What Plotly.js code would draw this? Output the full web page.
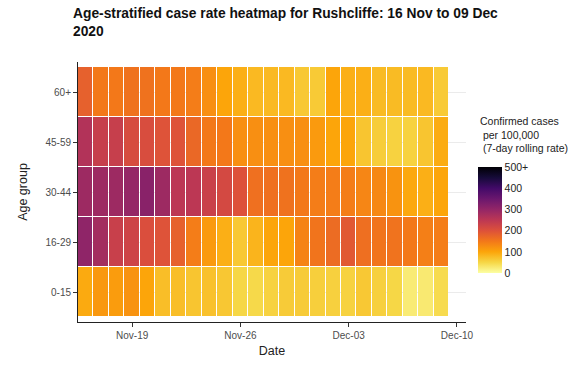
<!DOCTYPE html>
<html><head><meta charset="utf-8">
<script src="https://cdn.plot.ly/plotly-3.0.1.min.js"></script>
<style>body{margin:0;background:#fff}#chart{width:585px;height:365px}</style>
</head><body><div id="chart"></div>
<script>
const dates = ['2020-11-16','2020-11-17','2020-11-18','2020-11-19','2020-11-20','2020-11-21','2020-11-22','2020-11-23','2020-11-24','2020-11-25','2020-11-26','2020-11-27','2020-11-28','2020-11-29','2020-11-30','2020-12-01','2020-12-02','2020-12-03','2020-12-04','2020-12-05','2020-12-06','2020-12-07','2020-12-08','2020-12-09'];
const ageGroups = ['0-15','16-29','30-44','45-59','60+'];
const rate0_15  = [95,115,110,120,100,75,75,68,72,66,50,48,55,62,62,58,57,55,65,57,50,25,27,45];
const rate16_29 = [305,280,232,225,205,198,180,145,112,90,65,85,100,100,138,155,165,190,162,155,157,150,142,145];
const rate30_44 = [288,288,288,298,312,288,250,250,230,215,200,160,160,158,150,145,145,145,135,132,120,97,90,100];
const rate45_59 = [262,235,235,210,208,198,198,170,150,150,125,125,125,125,125,112,100,100,68,60,55,55,68,93];
const rate60p   = [180,150,150,158,158,150,150,145,125,100,90,80,80,80,65,63,100,90,90,78,78,78,80,63];
const cbTicks = [0,100,200,300,400,500];
const cbLabels = ['0','100','200','300','400','500+'];
const xTicks = ['2020-11-19','2020-11-26','2020-12-03','2020-12-10'];
const xTickText = ['Nov-19','Nov-26','Dec-03','Dec-10'];
const chartTitle = 'Age-stratified case rate heatmap for Rushcliffe: 16 Nov to 09 Dec<br>2020';

const inferno = [[0,'#FCFFA4'],[0.1,'#F6D746'],[0.2,'#FCA50A'],[0.3,'#F37819'],[0.4,'#DD513A'],[0.5,'#BC3754'],[0.6,'#932667'],[0.7,'#6A176E'],[0.8,'#420A68'],[0.9,'#160B39'],[1,'#000004']];

const z = [rate0_15, rate16_29, rate30_44, rate45_59, rate60p];
const trace = {
  type:'heatmap', x:dates, y:ageGroups, z:z,
  zmin:0, zmax:500, colorscale:inferno, xgap:1, ygap:1,
  hoverinfo:'x+y+z',
  colorbar:{
    x:1.031, xanchor:'left', y:0.392, yanchor:'middle', xpad:0, ypad:0,
    thickness:24, thicknessmode:'pixels', len:106, lenmode:'pixels',
    outlinewidth:0, tickvals:cbTicks, ticktext:cbLabels,
    ticks:'', ticklen:0,
    tickfont:{family:'Liberation Sans, Arial, sans-serif', size:10.5, color:'#222'},
    title:{text:''}
  }
};
const layout = {
  width:585, height:365,
  margin:{l:78, r:119, t:62, b:43},
  paper_bgcolor:'#fff', plot_bgcolor:'#fff',
  font:{family:'Liberation Sans, Arial, sans-serif'},
  xaxis:{type:'date', range:['2020-11-15 12:00','2020-12-10 14:00'],
    tickvals:xTicks, ticktext:xTickText, showgrid:false, zeroline:false,
    showline:true, linecolor:'#222', linewidth:1, ticks:'outside', ticklen:4, tickcolor:'#333',
    tickfont:{size:10, color:'#4d4d4d'},
    title:{text:'Date', font:{size:12.5, color:'#222'}, standoff:6}},
  yaxis:{type:'category', categoryarray:ageGroups, range:[-0.6,4.6],
    showgrid:true, gridcolor:'#ebebeb', zeroline:false,
    showline:true, linecolor:'#222', linewidth:1, ticks:'outside', ticklen:4, tickcolor:'#333',
    tickfont:{size:10, color:'#4d4d4d'},
    title:{text:'Age group', font:{size:12.5, color:'#222'}, standoff:15}},
  annotations:[{
    xref:'paper', yref:'paper', x:(71-78)/388, xanchor:'left', y:(322-4)/260, yanchor:'top',
    text:'<b>'+chartTitle+'</b>', align:'left', showarrow:false,
    font:{size:13.8, color:'#111'}
  },{
    xref:'paper', yref:'paper', x:1.0, xanchor:'left', y:(322-113)/260, yanchor:'top',
    xshift:12,
    text:'Confirmed cases<br>\u00a0per 100,000<br>\u00a0(7-day rolling rate)',
    align:'left', showarrow:false,
    font:{size:10.5, color:'#222'}
  }]
};
Plotly.newPlot('chart',[trace],layout,{displayModeBar:false, staticPlot:true});
</script></body></html>
